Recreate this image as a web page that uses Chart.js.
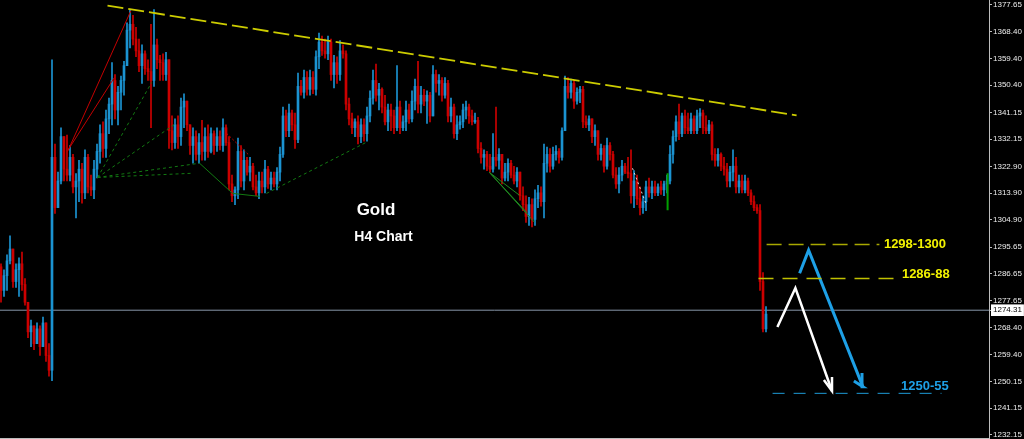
<!DOCTYPE html>
<html>
<head>
<meta charset="utf-8">
<title>Gold H4 Chart</title>
<script src="https://cdn.jsdelivr.net/npm/chart.js@4.4.1/dist/chart.umd.min.js"></script>
<style>
  html, body { margin: 0; padding: 0; background: #000; }
  #wrap { position: relative; width: 1024px; height: 439px; }
</style>
</head>
<body>
<div id="wrap"><canvas id="goldChart"></canvas></div>
<script>
// H4 candles, oldest first. open of each bar = previous close
const firstOpen = 1289;
const highs = [
  1290, 1288, 1293, 1299.5, 1293, 1290, 1292, 1294, 1285, 1276, 1271, 1268, 1270, 1269, 1272, 1267,
  1263, 1359, 1330.5, 1321, 1336, 1332, 1333.5, 1330, 1327, 1320.5, 1325, 1324, 1328.5, 1327, 1320, 1325,
  1330.5, 1337, 1338, 1342, 1346, 1358, 1354, 1350, 1353.5, 1358.5, 1371.5, 1376, 1374, 1370, 1366, 1364,
  1362, 1359, 1371, 1376, 1366, 1360.5, 1361, 1361.5, 1359, 1340, 1339, 1340, 1346, 1347.5, 1345, 1337,
  1336, 1335, 1334, 1338.5, 1336, 1337, 1336, 1335, 1336, 1335, 1339, 1337, 1333, 1320, 1316, 1332.5,
  1330, 1328.5, 1326, 1326, 1324, 1320, 1321, 1321, 1325, 1323, 1321, 1321, 1322.5, 1329.5, 1343, 1342,
  1344, 1342, 1341, 1354.5, 1352, 1355.5, 1355, 1355.5, 1355, 1362, 1368, 1367, 1366, 1367, 1366, 1360.5,
  1360, 1365.5, 1364, 1362, 1346, 1341, 1339, 1340, 1339, 1339, 1343, 1348.5, 1355.5, 1357.5, 1351, 1349.5,
  1347, 1344, 1344, 1342, 1357, 1345, 1340, 1345, 1344, 1348.5, 1352.5, 1358.5, 1350, 1349, 1348.5, 1348,
  1357, 1355.5, 1354, 1353, 1353, 1352, 1346, 1344, 1340, 1340, 1344, 1345, 1344, 1342, 1341, 1339.5,
  1331, 1328.5, 1328, 1327, 1334, 1343, 1329, 1327, 1324, 1325.5, 1325, 1323, 1322.5, 1321, 1316, 1313,
  1312.5, 1312, 1315, 1316.5, 1316, 1330.5, 1329.5, 1329, 1329.5, 1330, 1329, 1336, 1353.5, 1353, 1352.5, 1352,
  1349.5, 1350, 1350, 1340, 1340, 1338.5, 1337, 1335, 1330.5, 1330, 1332.5, 1331, 1328, 1322.5, 1322.5, 1325,
  1324, 1326, 1328.5, 1321.5, 1320, 1316, 1313, 1318, 1319, 1318, 1318, 1317, 1318, 1318, 1320, 1330,
  1335, 1340, 1344, 1341, 1342, 1341, 1341, 1340, 1342, 1342.5, 1342, 1340, 1338.5, 1338, 1329, 1329,
  1327.5, 1326, 1324, 1323, 1328.5, 1326, 1320, 1320, 1320, 1319, 1315, 1313, 1310, 1310, 1287, 1275.5
];
const lows = [
  1277, 1279, 1281, 1290, 1282, 1282, 1279, 1281, 1276, 1265, 1262, 1261, 1263, 1259, 1262, 1257,
  1252, 1250.5, 1307, 1309, 1317, 1318, 1318, 1318, 1314, 1305.5, 1311, 1310.5, 1312, 1314, 1313, 1312,
  1319, 1324, 1326, 1326, 1334, 1337, 1339, 1337, 1342, 1347, 1357, 1363, 1364, 1360, 1355, 1351,
  1354, 1352, 1336, 1350, 1356, 1352, 1352, 1352, 1329, 1328.5, 1329, 1329, 1330, 1336, 1335, 1327,
  1324, 1325, 1324, 1325, 1325, 1326, 1327.5, 1327, 1328, 1328.5, 1328, 1330, 1315, 1311, 1310, 1312,
  1316, 1315, 1320, 1318, 1315, 1313, 1312, 1314, 1314, 1315.5, 1315, 1316, 1315, 1318, 1326, 1333,
  1333, 1335, 1329, 1331, 1347, 1346, 1347, 1347, 1347.5, 1347, 1356, 1360.5, 1359.5, 1359, 1352, 1349.5,
  1351, 1352, 1359.5, 1342, 1337, 1334, 1333, 1330.5, 1331, 1331.5, 1331.5, 1338, 1344, 1345, 1342, 1341,
  1337, 1335, 1335, 1334, 1335, 1334, 1335, 1335, 1337.5, 1338, 1342, 1341, 1341, 1343.5, 1337.5, 1338,
  1340, 1348, 1347, 1345, 1346, 1338, 1338, 1332.5, 1332, 1335.5, 1336, 1339, 1337.5, 1337, 1337.5, 1327.5,
  1324, 1322, 1321.5, 1321, 1321, 1323, 1322, 1317, 1318, 1318, 1319, 1317, 1316, 1311.5, 1308, 1304,
  1303, 1302.5, 1303, 1309, 1309.5, 1305.5, 1321, 1321, 1322, 1325, 1324, 1325, 1335, 1346, 1346, 1342.5,
  1344, 1344.5, 1336, 1336, 1335, 1331, 1330, 1325, 1325, 1321, 1322, 1325, 1319, 1315.5, 1314, 1318,
  1320.5, 1319, 1310.5, 1309, 1310, 1306.5, 1307, 1308, 1312.5, 1312, 1313, 1313, 1313.5, 1313, 1314, 1317,
  1324, 1331.5, 1332, 1333, 1334, 1334, 1334, 1334, 1334, 1336, 1334, 1334, 1334, 1325, 1323, 1323,
  1321.5, 1320, 1316, 1316, 1318, 1314, 1314, 1314, 1314, 1313, 1310, 1308, 1307, 1281, 1267, 1267
];
const closes = [
  1281, 1286, 1291, 1295, 1284, 1288, 1290, 1283, 1277, 1267, 1269, 1263, 1268, 1262, 1270, 1259,
  1254, 1326, 1309, 1318, 1333, 1322, 1320, 1326, 1316, 1318, 1322, 1314, 1326, 1316, 1315, 1322,
  1328, 1334, 1329, 1339, 1344, 1352, 1342, 1348, 1352, 1357, 1369, 1371, 1366, 1362, 1357, 1361,
  1356, 1355, 1352, 1364, 1359, 1358, 1354, 1359, 1335, 1331, 1337, 1333, 1343, 1345, 1337, 1330,
  1333, 1327, 1331, 1328, 1333, 1328, 1334, 1330, 1333, 1330, 1336, 1331, 1317, 1313, 1315, 1328,
  1318, 1325, 1321, 1323, 1316, 1314, 1318, 1316, 1322, 1317, 1319, 1317, 1321, 1327, 1340, 1335,
  1341, 1337, 1332, 1350, 1348, 1353, 1349, 1353, 1349, 1360, 1365, 1362, 1361, 1365, 1354, 1358,
  1354, 1362, 1361, 1344, 1339, 1336, 1338, 1333, 1337, 1334, 1340, 1346, 1352, 1347, 1349, 1343,
  1338, 1342, 1340, 1336, 1343, 1336, 1338, 1342, 1339, 1345, 1350, 1344, 1347, 1345, 1347, 1340,
  1354, 1351, 1352, 1347, 1351, 1340, 1343, 1334, 1337, 1338, 1342, 1343, 1340, 1338, 1338.5, 1329,
  1326, 1327, 1323, 1322, 1326, 1325, 1327, 1319, 1321, 1324, 1320, 1318, 1321, 1313, 1310, 1306,
  1310, 1305, 1312, 1314, 1311, 1324, 1327, 1323, 1327, 1328, 1326, 1335, 1350, 1348, 1351, 1345,
  1348, 1349, 1338, 1337, 1339, 1333, 1335, 1327, 1329, 1323, 1330, 1327, 1320, 1317, 1320, 1323,
  1321, 1320.5, 1313, 1318, 1312, 1309, 1311, 1316, 1314, 1316, 1314, 1316, 1315, 1317, 1318, 1327,
  1333, 1338, 1334, 1340, 1336, 1335, 1339, 1335, 1340, 1341, 1336, 1335, 1337, 1327, 1325, 1327,
  1323, 1322, 1318, 1321, 1323, 1316, 1318, 1315, 1318, 1314, 1311, 1309, 1308, 1284, 1268, 1273
];

const priceTicks = [1377.65, 1368.40, 1359.40, 1350.40, 1341.15, 1332.15, 1322.90, 1313.90, 1304.90,
  1295.65, 1286.65, 1277.65, 1274.31, 1268.40, 1259.40, 1250.15, 1241.15, 1232.15];
const lastPrice = 1274.31;

// drawn objects, as [bar index, price] points
const trendLine = [[35.5, 1377.3], [265.2, 1340.2]];
const redFan = [
  [[22.2, 1328.0], [43.3, 1375.6]],
  [[22.5, 1328.7], [37.8, 1353.0]]
];
const redDotted = [[75.2, 1334.1], [82.8, 1326.6]];
const greenFan = [
  [[32.2, 1319.2], [50.2, 1351.3]],
  [[32.2, 1319.2], [57.8, 1337.1]],
  [[32.2, 1319.2], [63.5, 1320.6]],
  [[32.2, 1319.2], [66.2, 1324.0]],
  [[88.5, 1313.8], [121.8, 1331.1]]
];
const greenSolid = [[66.2, 1324.0], [77.2, 1313.8], [86.2, 1312.8]];
const greenFan2 = [
  [[162.8, 1320.9], [177.8, 1304.1]],
  [[162.8, 1320.9], [175.2, 1307.4]],
  [[162.8, 1320.9], [172.8, 1313.2]]
];
const greenMark = [[222.2, 1320.6], [222.2, 1308.1]];
const whiteDotted = [[210.5, 1322.3], [215.2, 1309.8]];
const level1300 = [[255.2, 1296.5], [292.8, 1296.5]];
const level1288 = [[252.5, 1285.0], [299.5, 1285.0]];
const level1255 = [[257.2, 1246.2], [313.5, 1246.2]];
const whiteArrow = [[258.8, 1268.6], [264.8, 1281.8], [277.0, 1247.0]];
const whiteHead = [[274.3, 1250.7], [277.0, 1247.0], [277.0, 1251.7]];
const blueArrow = [[266.2, 1286.8], [269.2, 1294.6], [287.3, 1248.4]];
const blueHead = [[284.3, 1250.4], [287.3, 1248.4], [287.0, 1253.1]];

const notes = [
  { text: 'Gold', at: [125, 1308.1], color: '#ffffff', size: 17, align: 'center' },
  { text: 'H4 Chart', at: [127.5, 1299.0], color: '#ffffff', size: 14, align: 'center' },
  { text: '1298-1300', at: [294.3, 1296.5], color: '#f2f200', size: 13, align: 'left' },
  { text: '1286-88', at: [300.3, 1286.4], color: '#f2f200', size: 13, align: 'left' },
  { text: '1250-55', at: [300, 1248.4], color: '#1ea0e6', size: 13, align: 'left' }
];

const bullColor = '#1b93d1';
const bearColor = '#cc0000';

const opens = closes.map((c, i) => i === 0 ? firstOpen : closes[i - 1]);
const wickData = highs.map((h, i) => ({
  x: i,
  y: [Math.min(lows[i], opens[i], closes[i]), Math.max(h, opens[i], closes[i])]
}));
const bodyData = closes.map((c, i) => ({ x: i, y: [opens[i], c] }));
const candleColors = closes.map((c, i) => c >= opens[i] ? bullColor : bearColor);

const lineSet = (points, color, width, dash, order) => ({
  type: 'line',
  data: points.map(p => ({ x: p[0], y: p[1] })),
  borderColor: color,
  borderWidth: width,
  borderDash: dash || [],
  borderCapStyle: 'butt',
  pointRadius: 0,
  fill: false,
  tension: 0,
  order: order || 0
});

const overlays = [
  lineSet([[-1, lastPrice], [340, lastPrice]], '#8796a8', 1, [], 30),
  lineSet(trendLine, '#cccc00', 1.8, [16, 5]),
  ...redFan.map(s => lineSet(s, '#c40000', 1)),
  lineSet(redDotted, '#c40000', 1, [2, 2]),
  ...greenFan.map(s => lineSet(s, '#127a12', 1, [3, 3])),
  lineSet(greenSolid, '#127a12', 1),
  ...greenFan2.map(s => lineSet(s, '#1f8a1f', 1)),
  lineSet(greenMark, '#00a000', 2),
  lineSet(whiteDotted, '#e0e0e0', 1, [2, 3]),
  lineSet(level1300, '#a8a800', 1.5, [15, 7]),
  lineSet(level1288, '#c0c000', 1.5, [15, 9]),
  lineSet(level1255, '#1e9bd7', 1, [12, 9]),
  lineSet(whiteArrow, '#ffffff', 2.5),
  lineSet(whiteHead, '#ffffff', 2.5),
  lineSet(blueArrow, '#1ea0e6', 3),
  lineSet(blueHead, '#1ea0e6', 3)
];

// text labels drawn on top of everything
const notesPlugin = {
  id: 'notes',
  afterDatasetsDraw(chart) {
    const { ctx, scales: { x, y } } = chart;
    ctx.save();
    ctx.textBaseline = 'middle';
    notes.forEach(n => {
      ctx.font = `bold ${n.size}px "Liberation Sans", Arial, sans-serif`;
      ctx.fillStyle = n.color;
      ctx.textAlign = n.align;
      ctx.fillText(n.text, x.getPixelForValue(n.at[0]), y.getPixelForValue(n.at[1]));
    });
    ctx.restore();
  }
};

Chart.defaults.font.family = '"Liberation Sans", Arial, sans-serif';

new Chart(document.getElementById('goldChart'), {
  type: 'bar',
  data: {
    datasets: [
      {
        data: wickData,
        backgroundColor: candleColors,
        borderWidth: 0,
        barThickness: 1,
        grouped: false,
        order: 12
      },
      {
        data: bodyData,
        backgroundColor: candleColors,
        borderWidth: 0,
        barThickness: 2,
        minBarLength: 1,
        grouped: false,
        order: 11
      },
      ...overlays
    ]
  },
  options: {
    responsive: true,
    maintainAspectRatio: false,
    animation: false,
    events: [],
    layout: { padding: { top: 0, right: 0, left: 0, bottom: 1 } },
    plugins: {
      legend: { display: false },
      tooltip: { enabled: false }
    },
    scales: {
      x: {
        type: 'linear',
        min: -1 / 3,
        max: 329 + 1 / 3,
        offset: false,
        grid: { display: false, drawTicks: false },
        ticks: { display: false },
        border: { display: true, color: '#bdbdbd', width: 1 }
      },
      y: {
        type: 'linear',
        position: 'right',
        min: 1231.1,
        max: 1379.2,
        grid: { drawOnChartArea: false, drawTicks: true, tickLength: 3, color: '#bdbdbd' },
        border: { display: true, color: '#bdbdbd', width: 1 },
        ticks: {
          autoSkip: false,
          padding: 1,
          font: { size: 8 },
          color: c => c.tick && c.tick.value === lastPrice ? '#000000' : '#ececec',
          showLabelBackdrop: c => !!(c.tick && c.tick.value === lastPrice),
          backdropColor: '#ffffff',
          backdropPadding: { x: 2, y: 1 },
          callback: v => Number(v).toFixed(2)
        },
        afterBuildTicks: scale => {
          scale.ticks = priceTicks.map(v => ({ value: v }));
        },
        afterFit: scale => {
          scale.width = 35;
          scale.paddingTop = 0;
          scale.paddingBottom = 0;
        }
      }
    }
  },
  plugins: [notesPlugin]
});
</script>
</body>
</html>
